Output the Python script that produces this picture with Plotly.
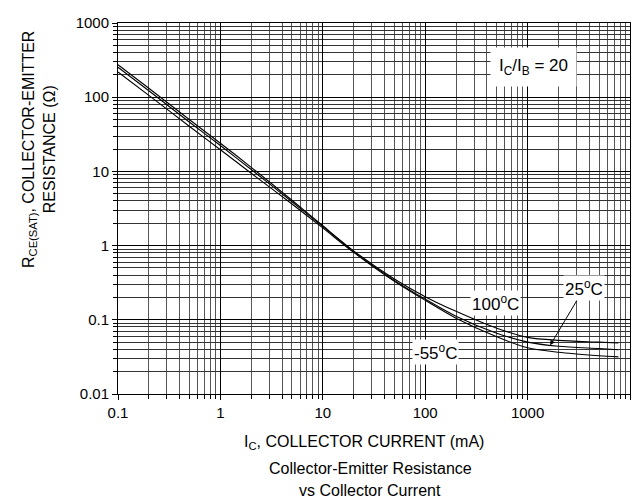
import numpy as np
import plotly.graph_objects as go

# Collector current (mA) and Rce(sat) (ohm)
ic_ma = [0.1, 0.2, 0.5, 1, 2, 5, 10, 20, 50, 100, 200, 500, 1000, 2000, 5000, 7700]
r_100c = [274, 131.8, 49.6, 24.0, 11.34, 4.08, 1.854, 0.85, 0.355, 0.205, 0.13, 0.077, 0.058, 0.0528, 0.050, 0.0486]
r_25c = [253, 122, 46, 22.3, 10.6, 3.9, 1.80, 0.83, 0.34, 0.19, 0.112, 0.066, 0.050, 0.044, 0.041, 0.0395]
r_m55c = [219, 106, 40.3, 19.6, 9.43, 3.63, 1.73, 0.81, 0.33, 0.183, 0.105, 0.059, 0.042, 0.0365, 0.0328, 0.0316]

x_ticks = [0.1, 1, 10, 100, 1000, 10000]
x_labels = ["0.1", "1", "10", "100", "1000", "10000"]
y_ticks = [0.01, 0.1, 1, 10, 100, 1000]
y_labels = ["0.01", "0.1", "1", "10", "100", "1000"]

FONT = "Liberation Sans, Arial, sans-serif"
# plot area in pixels (margins below)
IZQ, ANCHO = 110, 512
TOP, ALTO = 15, 371

fig = go.Figure()
for serie in (r_100c, r_25c, r_m55c):
    fig.add_trace(go.Scatter(
        x=ic_ma, y=serie, mode="lines",
        line=dict(color="black", width=1.1, shape="spline", smoothing=0.8),
        showlegend=False, hoverinfo="skip"
    ))

x_minor = [m * 10.0 ** e for e in range(-1, 4) for m in range(2, 10)]
y_minor = [m * 10.0 ** e for e in range(-2, 3) for m in range(2, 10)]

comun = dict(
    type="log", showline=True, linecolor="black", linewidth=1, mirror=True,
    showgrid=True, gridcolor="black", gridwidth=1, ticks="outside",
    ticklen=5, tickcolor="black", tickfont=dict(family=FONT, size=15, color="black"),
    tickmode="array", zeroline=False, automargin=False,
)
fig.update_xaxes(
    range=[-1, 4], tickvals=x_ticks, ticktext=x_labels,
    minor=dict(tickvals=x_minor, ticks="outside", ticklen=4, tickcolor="black",
               showgrid=True, gridcolor="#555555", gridwidth=1),
    **comun
)
fig.update_yaxes(
    range=[-2, 3], tickvals=y_ticks, ticktext=y_labels,
    minor=dict(tickvals=y_minor, ticks="outside", ticklen=4, tickcolor="black",
               showgrid=True, gridcolor="#333333", gridwidth=1),
    **comun
)


def px(pix):
    # pixel column -> paper x
    return (pix - IZQ) / ANCHO


def py(pix):
    # pixel row -> paper y
    return 1 - (pix - TOP) / ALTO


txt = dict(family=FONT, size=17, color="black")
base = dict(xanchor="center", yanchor="middle", showarrow=False, xref="paper", yref="paper")
anotaciones = [
    dict(text="I<sub>C</sub>/I<sub>B</sub> = 20", x=px(525), y=py(59),
         bgcolor="white", borderpad=8, font=txt, **base),
    dict(text="100<sup>o</sup>C", x=px(487), y=py(295),
         bgcolor="white", borderpad=1, font=txt, **base),
    dict(text="-55<sup>o</sup>C", x=px(427), y=py(344),
         bgcolor="white", borderpad=1, font=txt, **base),
    dict(text="25<sup>o</sup>C", x=np.log10(1660), y=np.log10(0.0453), xref="x", yref="y",
         ax=34, ay=-57, showarrow=True, arrowhead=2, arrowsize=1, arrowwidth=1,
         arrowcolor="black", bgcolor="white", borderpad=1, font=txt,
         xanchor="center", yanchor="middle"),
    dict(text="R<sub>CE(SAT)</sub>, COLLECTOR-EMITTER<br>RESISTANCE (\u03a9)",
         x=px(31), y=py(142), textangle=-90,
         font=dict(family=FONT, size=16, color="black"), **base),
    dict(text="I<sub>C</sub>, COLLECTOR CURRENT (mA)", x=px(356), y=py(434),
         font=dict(family=FONT, size=16, color="black"), **base),
    dict(text="Collector-Emitter Resistance", x=px(362), y=py(460),
         font=dict(family=FONT, size=16, color="black"), **base),
    dict(text="vs Collector Current", x=px(362), y=py(482),
         font=dict(family=FONT, size=16, color="black"), **base),
]

fig.update_layout(
    width=642, height=500,
    margin=dict(l=IZQ, r=642 - IZQ - ANCHO, t=TOP, b=500 - TOP - ALTO),
    paper_bgcolor="white", plot_bgcolor="white",
    annotations=anotaciones,
)

fig.write_html("out.html")
